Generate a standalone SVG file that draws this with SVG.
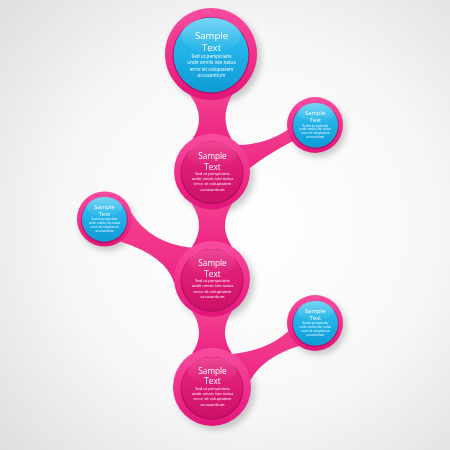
<svg xmlns="http://www.w3.org/2000/svg" width="450" height="450" viewBox="0 0 450 450">
<defs>
<radialGradient id="bg" cx="0.55" cy="0.5" r="0.75">
<stop offset="0" stop-color="#ffffff"/>
<stop offset="0.55" stop-color="#f7f7f7"/>
<stop offset="1" stop-color="#dedede"/>
</radialGradient>
<linearGradient id="ring" x1="0" y1="0" x2="0" y2="1">
<stop offset="0" stop-color="#f84c9f"/>
<stop offset="0.6" stop-color="#ef2b89"/>
<stop offset="1" stop-color="#e2157a"/>
</linearGradient>
<linearGradient id="link" x1="0" y1="0" x2="0" y2="1">
<stop offset="0" stop-color="#f5418f"/>
<stop offset="1" stop-color="#ec2484"/>
</linearGradient>
<linearGradient id="blue" x1="0" y1="0" x2="0" y2="1">
<stop offset="0" stop-color="#3cc4f1"/>
<stop offset="0.5" stop-color="#1fb0e6"/>
<stop offset="1" stop-color="#0d9ad6"/>
</linearGradient>
<linearGradient id="mag" x1="0" y1="0" x2="0" y2="1">
<stop offset="0" stop-color="#ea2a82"/>
<stop offset="0.5" stop-color="#dd1b75"/>
<stop offset="1" stop-color="#cc1267"/>
</linearGradient>
<linearGradient id="gloss" x1="0" y1="0" x2="0" y2="1">
<stop offset="0" stop-color="#ffffff" stop-opacity="0.3"/>
<stop offset="1" stop-color="#ffffff" stop-opacity="0"/>
</linearGradient>
<linearGradient id="gloss2" x1="0" y1="0" x2="0" y2="1">
<stop offset="0" stop-color="#ffffff" stop-opacity="0.14"/>
<stop offset="1" stop-color="#ffffff" stop-opacity="0"/>
</linearGradient>
<filter id="blur" x="-30%" y="-30%" width="160%" height="160%">
<feGaussianBlur stdDeviation="3"/>
</filter>
</defs>
<style>
.ring{fill:url(#ring);}
.rim{fill:#b80f62;}
.blue{fill:url(#blue);}
.mag{fill:url(#mag);}
.gloss{fill:url(#gloss);}
.gloss2{fill:url(#gloss2);}
.link{fill:url(#link);}
.sh{fill:#000;opacity:0.2;}
text{fill:#ffffff;font-family:"Open Sans","Liberation Sans",sans-serif;text-anchor:middle;}
.tb{font-size:9.6px;}
.bb{font-size:4.7px;}
.tm{font-size:8.2px;}
.bm{font-size:4.05px;}
.ts{font-size:5.9px;}
.bs{font-size:3.07px;}
</style>
<rect width="450" height="450" fill="url(#bg)"/>
<g id="shadows" filter="url(#blur)">
<circle class="sh" cx="215" cy="58" r="46"/>
<circle class="sh" cx="216" cy="176" r="38"/>
<circle class="sh" cx="216" cy="283" r="38"/>
<circle class="sh" cx="216" cy="391" r="39"/>
<circle class="sh" cx="318" cy="129" r="28"/>
<circle class="sh" cx="107" cy="223" r="27.5"/>
<circle class="sh" cx="318" cy="327" r="28"/>
</g>
<g id="connectors">
<path class="link" d="M190,95 Q207,118 192,139.7 L232,139.7 Q219,118 232,95 Z"/>
<path class="link" d="M192,204.3 Q206,226 192,246.7 L232,246.7 Q218,226 232,204.3 Z"/>
<path class="link" d="M192,311.3 Q206,333 192,353.5 L232,353.5 Q218,333 232,311.3 Z"/>
<path class="link" d="M238.9,145.1 Q266,144 287.4,129.9 L315,125 L291,142 Q265,156 249.8,168 L212,172 Z"/>
<path class="link" d="M131.3,212.8 Q150,243 192,248 L212,279 L174.2,283 Q166,256 120.3,241.5 L104.5,219 Z"/>
<path class="link" d="M232.7,353.9 Q268,350 288.2,331.2 L315,323 L298.9,345.9 Q263,357 250.4,380.2 L212,387 Z"/>
</g>
<g id="node-top">
<circle class="ring" cx="211" cy="54" r="46"/>
<circle class="rim" cx="211" cy="55.5" r="38.5"/>
<circle class="blue" cx="211" cy="55" r="37.5"/>
<ellipse class="gloss" cx="211" cy="35" rx="30" ry="17"/>
<text class="tb" x="211.5" y="39">Sample</text>
<text class="tb" x="211.5" y="51">Text</text>
<text class="bb" x="211.5" y="57.6">Sed ut perspiciatis</text>
<text class="bb" x="211.5" y="64">unde omnis iste natus</text>
<text class="bb" x="211.5" y="70.6">error sit voluptatem</text>
<text class="bb" x="211.5" y="77">accusantium</text>
</g>
<g id="node-2">
<circle class="ring" cx="212" cy="171.5" r="38"/>
<circle class="rim" cx="212" cy="173" r="31.5"/>
<circle class="mag" cx="212" cy="172" r="30.5"/>
<ellipse class="gloss2" cx="212" cy="155" rx="24" ry="13"/>
<text class="tm" x="212.5" y="158.8">Sample</text>
<text class="tm" x="212.5" y="169.5">Text</text>
<text class="bm" x="212.5" y="174.7">Sed ut perspiciatis</text>
<text class="bm" x="212.5" y="180.1">unde omnis iste natus</text>
<text class="bm" x="212.5" y="185.4">error sit voluptatem</text>
<text class="bm" x="212.5" y="190.7">accusantium</text>
</g>
<g id="node-3">
<circle class="ring" cx="212" cy="279" r="38"/>
<circle class="rim" cx="212" cy="280.5" r="31.5"/>
<circle class="mag" cx="212" cy="279.5" r="30.5"/>
<ellipse class="gloss2" cx="212" cy="262.5" rx="24" ry="13"/>
<text class="tm" x="212.5" y="266.1">Sample</text>
<text class="tm" x="212.5" y="276.8">Text</text>
<text class="bm" x="212.5" y="282.1">Sed ut perspiciatis</text>
<text class="bm" x="212.5" y="287.4">unde omnis iste natus</text>
<text class="bm" x="212.5" y="292.7">error sit voluptatem</text>
<text class="bm" x="212.5" y="298.1">accusantium</text>
</g>
<g id="node-4">
<circle class="ring" cx="212" cy="387" r="39"/>
<circle class="rim" cx="212" cy="388.5" r="31.5"/>
<circle class="mag" cx="212" cy="387.5" r="30.5"/>
<ellipse class="gloss2" cx="212" cy="370.5" rx="24" ry="13"/>
<text class="tm" x="212.5" y="373.5">Sample</text>
<text class="tm" x="212.5" y="383.8">Text</text>
<text class="bm" x="212.5" y="389.7">Sed ut perspiciatis</text>
<text class="bm" x="212.5" y="395.1">unde omnis iste natus</text>
<text class="bm" x="212.5" y="400.4">error sit voluptatem</text>
<text class="bm" x="212.5" y="405.7">accusantium</text>
</g>
<g id="node-right-top">
<circle class="ring" cx="315" cy="125" r="28"/>
<circle class="rim" cx="315.5" cy="126" r="23.3"/>
<circle class="blue" cx="315.5" cy="125.3" r="22.5"/>
<ellipse class="gloss" cx="315.5" cy="113" rx="18" ry="10"/>
<text class="ts" x="315.3" y="114.7">Sample</text>
<text class="ts" x="315.3" y="122.3">Text</text>
<text class="bs" x="315.3" y="126.8">Sed ut perspiciatis</text>
<text class="bs" x="315.3" y="130.4">unde omnis iste natus</text>
<text class="bs" x="315.3" y="134.1">error sit voluptatem</text>
<text class="bs" x="315.3" y="137.8">accusantium</text>
</g>
<g id="node-left">
<circle class="ring" cx="104.5" cy="219" r="27.5"/>
<circle class="rim" cx="104.5" cy="220" r="23.3"/>
<circle class="blue" cx="104.5" cy="219.3" r="22.5"/>
<ellipse class="gloss" cx="104.5" cy="207" rx="18" ry="10"/>
<text class="ts" x="104.5" y="208.7">Sample</text>
<text class="ts" x="104.5" y="216">Text</text>
<text class="bs" x="104.5" y="220.4">Sed ut perspiciatis</text>
<text class="bs" x="104.5" y="224.4">unde omnis iste natus</text>
<text class="bs" x="104.5" y="228.1">error sit voluptatem</text>
<text class="bs" x="104.5" y="231.8">accusantium</text>
</g>
<g id="node-right-bottom">
<circle class="ring" cx="315" cy="323" r="28"/>
<circle class="rim" cx="315.5" cy="324" r="23.3"/>
<circle class="blue" cx="315.5" cy="323.3" r="22.5"/>
<ellipse class="gloss" cx="315.5" cy="311" rx="18" ry="10"/>
<text class="ts" x="315.3" y="313">Sample</text>
<text class="ts" x="315.3" y="320.3">Text</text>
<text class="bs" x="315.3" y="324.4">Sed ut perspiciatis</text>
<text class="bs" x="315.3" y="328.4">unde omnis iste natus</text>
<text class="bs" x="315.3" y="332.4">error sit voluptatem</text>
<text class="bs" x="315.3" y="336.1">accusantium</text>
</g>
</svg>
